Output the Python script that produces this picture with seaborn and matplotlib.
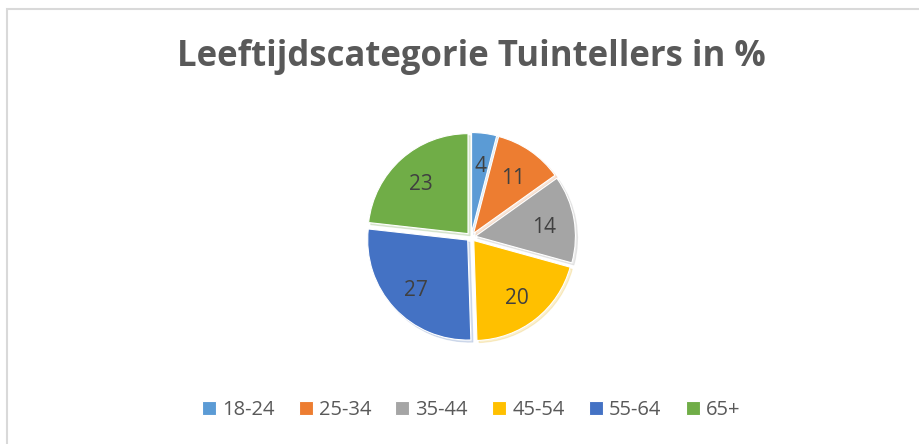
import matplotlib
matplotlib.use("Agg")
import matplotlib.pyplot as plt
from matplotlib.patches import Rectangle
import seaborn as sns

# chart data
categories = ["18-24", "25-34", "35-44", "45-54", "55-64", "65+"]
percentages = [4, 11, 14, 20, 27, 23]
slice_colors = ["#5B9BD5", "#ED7D31", "#A5A5A5", "#FFC000", "#4472C4", "#70AD47"]
title = "Leeftijdscategorie Tuintellers in %"

sns.set_theme(style="white")
plt.rcParams["font.family"] = ["Open Sans", "DejaVu Sans"]
palette = sns.color_palette(slice_colors)

W, H = 920, 444
fig = plt.figure(figsize=(W / 100, H / 100), dpi=100)
ax = fig.add_axes([0, 0, 1, 1])

# chart frame
ax.add_patch(Rectangle((7, -5), W, H - 9 + 5, fill=False, ec="#D9D9D9", lw=1.5))

# explode is in data units (pixels here)
wedges, texts = ax.pie(
    percentages,
    labels=[str(p) for p in percentages],
    colors=palette,
    startangle=90,
    counterclock=False,
    center=(471, 207),
    radius=100,
    explode=[4.5] * len(percentages),
    labeldistance=0.7,
    shadow={"ox": 1.5, "oy": -1.5, "shade": 0.1, "alpha": 0.18},
    wedgeprops={"linewidth": 0.8, "edgecolor": "white"},
    frame=True,
)
ax.axis("off")
ax.set_xlim(0, W)
ax.set_ylim(0, H)
ax.set_aspect("equal")
for t in texts:
    x, y = t.get_position()
    t.set_position((x, y - 3))
    t.set_ha("center")
    t.set_va("center")
    t.set_fontsize(15)
    t.set_color("#404040")

fig.text(471, H - 57, title, transform=None, ha="center", va="center",
         fontsize=25, fontweight="bold", color="#595959")

leg = fig.legend(
    wedges, categories, loc="center", bbox_to_anchor=(471 / W, 1 - 410 / H),
    ncol=6, frameon=False, fontsize=14.5, handlelength=0.7, handleheight=0.7,
    handletextpad=0.3, columnspacing=1.2,
)
for t in leg.get_texts():
    t.set_color("#595959")

fig.savefig("out.png", dpi=100)
